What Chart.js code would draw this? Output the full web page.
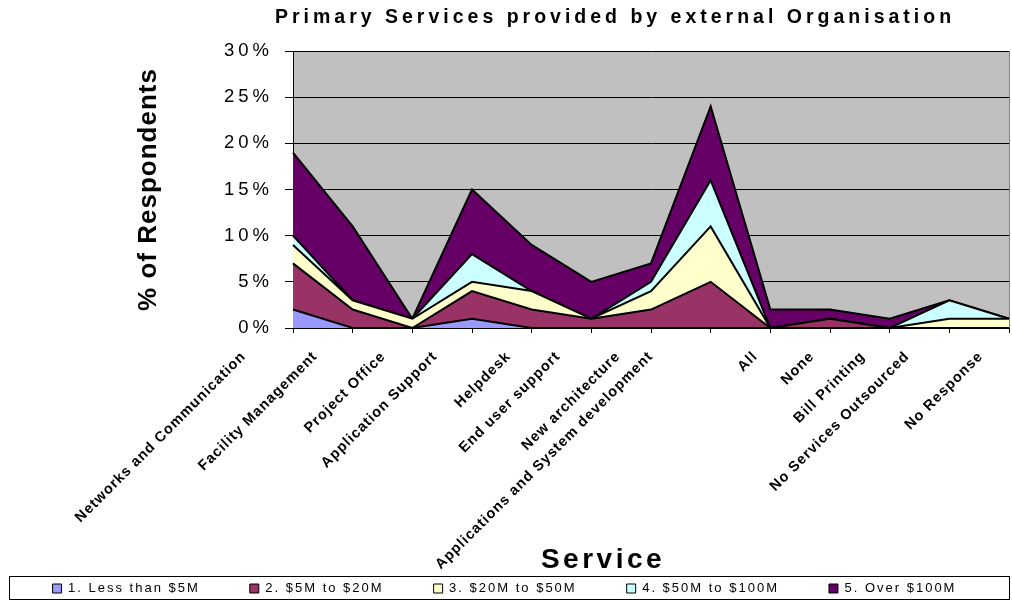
<!DOCTYPE html>
<html>
<head>
<meta charset="utf-8">
<title>Primary Services provided by external Organisation</title>
<script src="https://cdn.jsdelivr.net/npm/chart.js@4.4.1/dist/chart.umd.min.js"></script>
<style>
	html, body { margin: 0; padding: 0; background: #fff; }
</style>
</head>
<body>
<canvas id="grafico" width="1012" height="601"></canvas>
<script>
// Datos (porcentaje de encuestados)
var servicios = ['Networks and Communication', 'Facility Management', 'Project Office', 'Application Support', 'Helpdesk', 'End user support', 'New architecture', 'Applications and System development', 'All', 'None', 'Bill Printing', 'No Services Outsourced', 'No Response'];
var menos5M   = [2, 0, 0, 1, 0, 0, 0, 0, 0, 0, 0, 0, 0];
var de5a20M   = [5, 2, 0, 3, 2, 1, 2, 5, 0, 1, 0, 0, 0];
var de20a50M  = [2, 1, 1, 1, 2, 0, 2, 6, 0, 0, 0, 1, 1];
var de50a100M = [1, 0, 0, 3, 0, 0, 1, 5, 0, 0, 0, 2, 0];
var mas100M   = [9, 8, 0, 7, 5, 4, 2, 8, 2, 1, 1, 0, 0];
var nombresSeries = ['1. Less than $5M', '2. $5M to $20M', '3. $20M to $50M', '4. $50M to $100M', '5. Over $100M'];
var ticksY = [0, 5, 10, 15, 20, 25, 30];

var titulo = 'Primary Services provided by external Organisation';
var tituloX = 'Service';
var tituloY = '% of Respondents';

var colores = ['#9999FF', '#993366', '#FFFFCC', '#CCFFFF', '#660066'];
var fuente = "Arial, 'Liberation Sans', sans-serif";
var fuenteEtiquetas = 'bold 14.5px ' + fuente;
var fondoGrafico = '#C0C0C0';
var bordeInferior = 328; // borde inferior del area de trazado

// Canvas no tiene letter-spacing en Chart.js, se envuelve el dibujo de la escala
function espaciar(escala, espacioEtiquetas, espacioTitulo){
	if (escala._conEspacio) return;
	escala._conEspacio = true;
	var espacios = { drawLabels: espacioEtiquetas, drawTitle: espacioTitulo };
	Object.keys(espacios).forEach(function(metodo){
		var original = escala[metodo];
		escala[metodo] = function(){
			var ctx = this.ctx;
			ctx.save();
			ctx.letterSpacing = espacios[metodo];
			original.apply(this, arguments);
			ctx.restore();
		};
	});
}

// Excel corre las etiquetas giradas a la izquierda segun su largo
function desplazarEtiquetas(escala){
	if (escala._desplazado) return;
	escala._desplazado = true;
	escala._computeLabelArea = function(){ return null; };
	var calcular = escala._computeLabelItems;
	escala._computeLabelItems = function(area){
		var items = calcular.call(this, area);
		var ctx = this.ctx;
		ctx.save();
		ctx.font = fuenteEtiquetas;
		ctx.letterSpacing = '1px';
		items.forEach(function(it){
			var ancho = ctx.measureText(String(it.label)).width;
			it.options.translation[0] -= 11.5 + 0.161 * ancho;
		});
		ctx.restore();
		return items;
	};
}

var textosExtra = {
	id: 'textosExtra',
	beforeLayout: function(chart){
		chart.ctx.letterSpacing = '2px';
	},
	beforeDraw: function(chart){
		var ctx = chart.ctx, a = chart.chartArea;
		ctx.save();
		ctx.fillStyle = fondoGrafico;
		ctx.fillRect(a.left, a.top, a.right - a.left, a.bottom - a.top);
		ctx.restore();
		ctx.letterSpacing = '2px';
	},
	afterDraw: function(chart){
		var ctx = chart.ctx;
		ctx.save();
		ctx.fillStyle = '#000';
		ctx.textAlign = 'center';

		// titulo principal
		ctx.letterSpacing = '4px';
		ctx.font = 'bold 19.5px ' + fuente;
		ctx.textBaseline = 'alphabetic';
		ctx.fillText(titulo, 615, 23);

		// titulo del eje X
		ctx.letterSpacing = '3.5px';
		ctx.font = 'bold 28px ' + fuente;
		ctx.fillText(tituloX, 603, 568);

		// marco de la leyenda
		ctx.strokeStyle = '#000';
		ctx.lineWidth = 1;
		ctx.strokeRect(9.5, 576.5, 1000, 23);
		ctx.restore();
	}
};

var series = [menos5M, de5a20M, de20a50M, de50a100M, mas100M];
var datasets = [];
series.forEach(function(valores, i){
	datasets.push({
		label: nombresSeries[i],
		data: valores,
		backgroundColor: colores[i],
		borderColor: '#000',
		borderWidth: 2,
		fill: i === 0 ? 'origin' : '-1',
		pointRadius: 0,
		pointHoverRadius: 0,
		tension: 0
	});
});

var ctx = document.getElementById('grafico');
var grafico = new Chart(ctx, {
	type: 'line',
	data: {
		labels: servicios,
		datasets: datasets
	},
	plugins: [textosExtra],
	options: {
		responsive: false,
		animation: false,
		devicePixelRatio: 1,
		layout: {
			padding: { top: 51, left: 0, right: 3, bottom: -4 }
		},
		plugins: {
			title: { display: false },
			tooltip: { enabled: false },
			legend: {
				position: 'bottom',
				labels: {
					color: '#000',
					font: { family: fuente, size: 13 },
					boxWidth: 9,
					boxHeight: 9,
					padding: 50,
					generateLabels: function(chart){
						var items = Chart.defaults.plugins.legend.labels.generateLabels(chart);
						items.forEach(function(it){ it.lineWidth = 1; });
						return items;
					}
				}
			}
		},
		scales: {
			x: {
				type: 'category',
				offset: false,
				grid: {
					drawOnChartArea: true,
					color: function(c){ return c.index === servicios.length - 1 ? '#808080' : 'rgba(0,0,0,0)'; },
					tickColor: '#000',
					tickLength: 5
				},
				border: { display: true, color: '#000', width: 1 },
				ticks: {
					autoSkip: false,
					maxRotation: 45,
					minRotation: 45,
					padding: 15,
					color: '#000',
					font: { family: fuente, size: 14.5, weight: 'bold' }
				},
				afterFit: function(escala){
					escala.paddingLeft = 0;
					escala.paddingRight = 0;
					escala.height = escala.chart.height + 4 - escala.chart.legend.height - bordeInferior;
					espaciar(escala, '1px', '1px');
					desplazarEtiquetas(escala);
				}
			},
			y: {
				stacked: true,
				min: 0,
				max: 30,
				grid: {
					color: '#000',
					tickColor: '#000',
					tickLength: 8,
					lineWidth: 1
				},
				border: { display: true, color: '#000', width: 1 },
				ticks: {
					padding: 12,
					color: '#000',
					font: { family: fuente, size: 18.5 },
					callback: function(v){ return v + '%'; }
				},
				afterBuildTicks: function(escala){
					escala.ticks = ticksY.map(function(v){ return { value: v }; });
				},
				title: {
					display: true,
					text: tituloY,
					color: '#000',
					font: { family: fuente, size: 26, weight: 'bold' },
					padding: { top: 133, bottom: 0 }
				},
				afterFit: function(escala){
					escala.width = 293;
					espaciar(escala, '4px', '1px');
				}
			}
		}
	}
});
</script>
</body>
</html>
